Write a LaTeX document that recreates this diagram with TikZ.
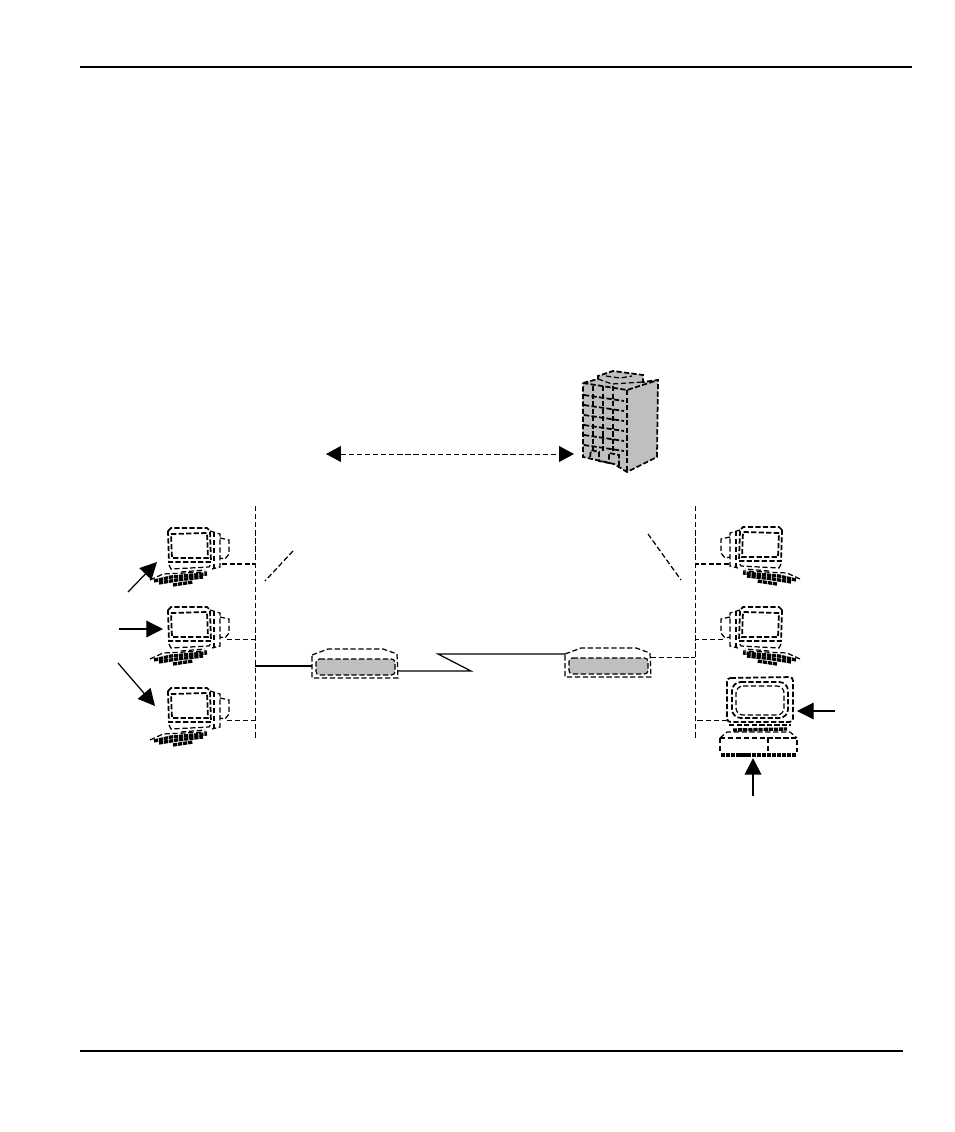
\documentclass[tikz,border=0pt]{standalone}
\usepackage{tikz}
\usetikzlibrary{arrows.meta,calc}
\definecolor{boxgray}{gray}{0.75}
\tikzset{
  wireline/.style={line width=0.55pt,dash pattern=on 3pt off 1.6pt},
  dashline/.style={line width=0.7pt,dash pattern=on 3pt off 1.5pt},
  heavydash/.style={line width=1pt,dash pattern=on 3pt off 1.3pt},
  keyline/.style={line width=1.9pt,dash pattern=on 2.4pt off 0.5pt},
  pointer/.style={line width=0.7pt,-{Triangle[length=9.5pt,width=9.5pt]}},
  pcunit/.pic={
    \draw[heavydash] (1,3)--(4,0)--(40,0)--(43,3)--(44,34)--(2,34)--cycle;
    \draw[heavydash] (4,6)--(40,5)--(41,30)--(5,30)--cycle;
    \draw[dashline] (2,37)--(4,41)--(42,39)--(44,36);
    \draw[dashline] (14,44)--(38,42);
    \draw[dashline] (43,3)--(53,6)--(53,39)--(45,41);
    \draw[dashline] (47,4)--(47,40);
    \draw[dashline] (53,10)--(62,12)--(62,26)--(58,31)--(53,30);
    \draw[dashline] (-17,52)--(-4,46)--(40,44);
    \draw[keyline] (-13,53)--(4,49)--(40,46);
    \draw[keyline] (-8,55)--(10,52)--(36,49);
    \draw[keyline] (6,57)--(26,54);
    \coordinate (-port) at (60,32);
  },
  desktop/.pic={
    \draw[heavydash,rounded corners=2pt] (0,1)--(66,0)--(66,45)--(0,45)--cycle;
    \draw[heavydash,rounded corners=5pt] (5,5)--(61,5)--(61,41)--(5,41)--cycle;
    \draw[dashline,rounded corners=4pt] (9,9)--(57,9)--(57,38)--(9,38)--cycle;
    \draw[heavydash] (2,48)--(64,48);
    \draw[keyline] (6,53)--(60,52);
    \draw[dashline] (-7,61)--(0,55)--(63,55)--(70,61);
    \draw[dashline] (-7,61)--(70,61)--(70,75);
    \draw[dashline] (-7,61)--(-7,75);
    \draw[dashline] (41,61)--(41,76);
    \draw[keyline,line width=2.4pt] (-6,78)--(69,78);
    \coordinate (-port) at (0,43);
    \coordinate (-screen) at (70,34);
    \coordinate (-keys) at (24,81);
  },
  modembox/.pic={
    \draw[dashline] (0,6)--(16,0)--(71,0)--(85,5)--(86,29)--(0,29)--cycle;
    \draw[dashline,fill=boxgray,rounded corners=2pt] (4,10)--(83,10)--(83,26)--(4,26)--cycle;
    \coordinate (-west) at (0,17);
    \coordinate (-east) at (86,22);
    \coordinate (-north) at (0,6);
    \coordinate (-out) at (86,9);
  }
}
\begin{document}
\begin{tikzpicture}[x=0.02cm,y=-0.02cm]
  \useasboundingbox (0,0) rectangle (954,1132);
  % page rules
  \coordinate (ruleTL) at (80,67);
  \coordinate (ruleTR) at (912,67);
  \coordinate (ruleBL) at (80,1051);
  \coordinate (ruleBR) at (903,1051);
  \draw[line width=1pt] (ruleTL)--(ruleTR);
  \draw[line width=1pt] (ruleBL)--(ruleBR);
  % building
  \draw[heavydash,fill=boxgray] (583,383)--(598,379)--(598,376)--(613,371)--(643,375)--(643,382)--(658,380)--(657,457)--(627,472)--(614,464)--(583,457)--cycle;
  \draw[heavydash] (583,383)--(627,390)--(658,380);
  \draw[heavydash] (627,390)--(627,472);
  \draw[dashline] (598,379)--(612,384)--(643,382);
  \draw[dashline] (606,376)--(620,378)--(632,376);
  \foreach \i in {0,...,5}
    \draw[heavydash] ($(584,395)+(0,\i*10)$)--($(624,401)+(0,\i*10)$);
  \foreach \xa in {593,603,613}
    \draw[heavydash] (\xa,386)--(\xa,451);
  \draw[heavydash] (590,457)--(591,450)--(599,452)--(599,461)--(609,463)--(609,453)--(619,455)--(619,468);
  % lan lines
  \coordinate (busLT) at (255,506);
  \coordinate (busLB) at (255,740);
  \coordinate (busRT) at (695,506);
  \coordinate (busRB) at (695,740);
  \draw[wireline] (busLT)--(busLB);
  \draw[wireline] (busRT)--(busRB);
  % left computers
  \pic (pcA) at (167,528) {pcunit};
  \pic (pcB) at (167,607) {pcunit};
  \pic (pcC) at (167,688) {pcunit};
  \coordinate (tapA) at (222,564);
  \draw[heavydash] (tapA)--(tapA-|busLT);
  \draw[wireline] (pcB-port)--(pcB-port-|busLT);
  \draw[wireline] (pcC-port)--(pcC-port-|busLT);
  % right computers
  \pic[xscale=-1] (pcD) at (783,527) {pcunit};
  \pic[xscale=-1] (pcE) at (783,607) {pcunit};
  \pic (pcF) at (727,677) {desktop};
  \coordinate (tapD) at (729,564);
  \draw[heavydash] (tapD)--(tapD-|busRT);
  \draw[wireline] (pcE-port)--(pcE-port-|busRT);
  \draw[wireline] (pcF-port)--(pcF-port-|busRT);
  % modems and line
  \pic (modemL) at (312,649) {modembox};
  \pic (modemR) at (565,648) {modembox};
  \coordinate (kinkA) at (471,670);
  \coordinate (kinkB) at (438,654);
  \draw[line width=0.8pt] (modemL-west-|busLT)--(modemL-west);
  \draw[line width=0.7pt] (modemL-east)--(modemL-east-|kinkA)--(kinkB)--(kinkB-|modemR-north);
  \draw[wireline] (modemR-out)--(modemR-out-|busRT);
  % slashes
  \coordinate (slashLa) at (293,551);
  \coordinate (slashLb) at (265,581);
  \coordinate (slashRa) at (648,534);
  \coordinate (slashRb) at (681,580);
  \draw[dashline] (slashLa)--(slashLb);
  \draw[dashline] (slashRa)--(slashRb);
  % arrows
  \coordinate (linkL) at (326,454);
  \coordinate (linkR) at (574,454);
  \draw[wireline,{Triangle[length=8.5pt,width=9pt]}-{Triangle[length=8.5pt,width=9pt]}] (linkL)--(linkR);
  \coordinate (fromA) at (128,592);
  \coordinate (toA) at (157,562);
  \coordinate (fromB) at (119,629);
  \coordinate (toB) at (163,629);
  \coordinate (fromC) at (118,663);
  \coordinate (toC) at (155,706);
  \coordinate (fromF) at (835,711);
  \coordinate (fromK) at (753,796);
  \draw[pointer] (fromA)--(toA);
  \draw[pointer] (fromB)--(toB);
  \draw[pointer] (fromC)--(toC);
  \draw[pointer] (fromF)--(fromF-|pcF-screen);
  \draw[pointer,line width=1pt] (fromK)--(fromK|-pcF-keys);
\end{tikzpicture}
\end{document}
